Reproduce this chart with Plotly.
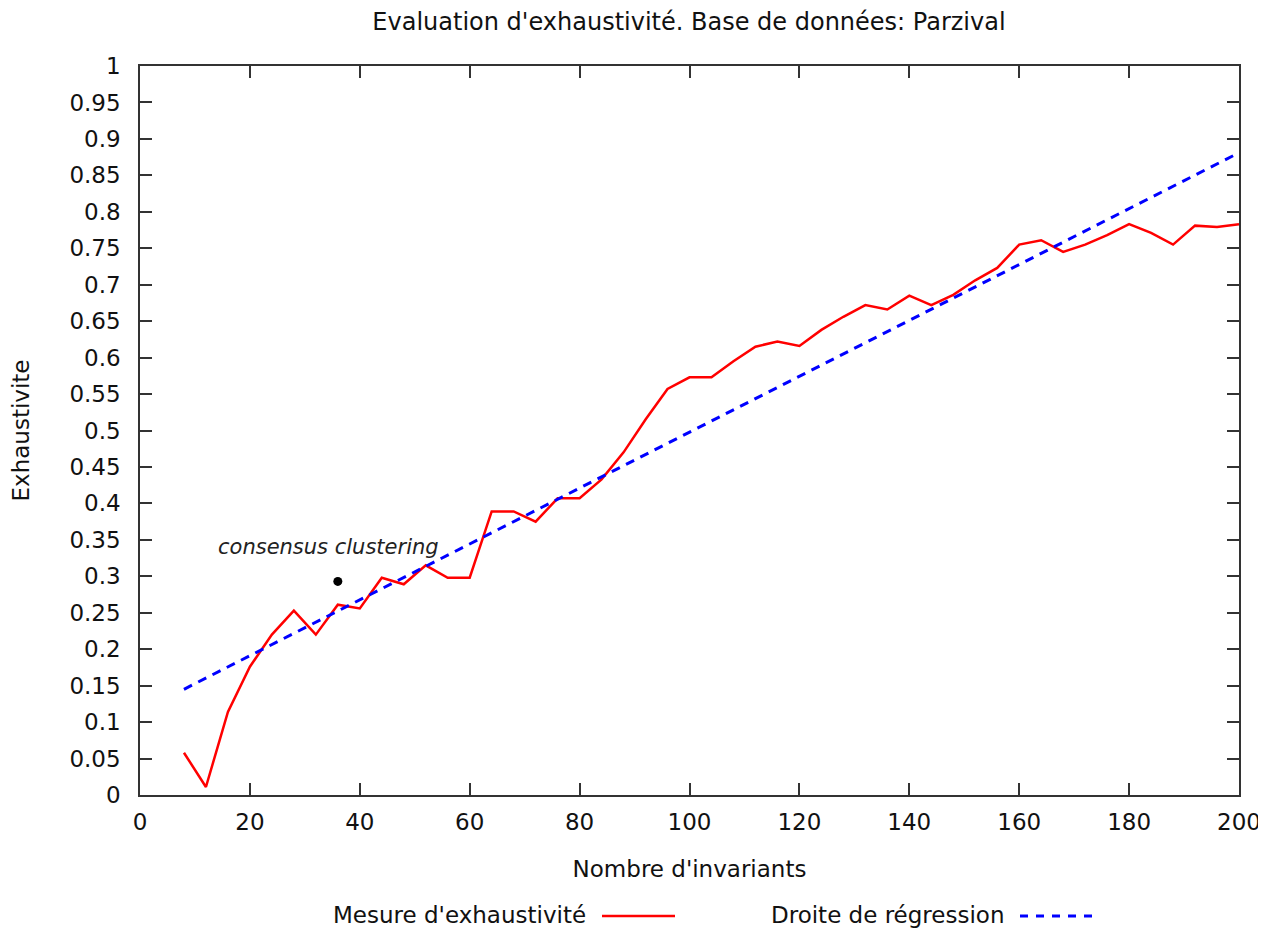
import plotly.graph_objects as go

# Data
invariants = [8, 12, 16, 20, 24, 28, 32, 36, 40, 44, 48, 52, 56, 60, 64, 68, 72, 76, 80, 84,
              88, 92, 96, 100, 104, 108, 112, 116, 120, 124, 128, 132, 136, 140, 144, 148,
              152, 156, 160, 164, 168, 172, 176, 180, 184, 188, 192, 196, 200]
exhaustivite = [0.058, 0.011, 0.114, 0.176, 0.220, 0.253, 0.220, 0.261, 0.256, 0.298, 0.289,
                0.315, 0.298, 0.298, 0.389, 0.389, 0.375, 0.407, 0.407, 0.433, 0.470, 0.515,
                0.557, 0.573, 0.573, 0.595, 0.615, 0.622, 0.616, 0.638, 0.656, 0.672, 0.666,
                0.685, 0.672, 0.686, 0.706, 0.723, 0.755, 0.761, 0.745, 0.755, 0.768, 0.783,
                0.771, 0.755, 0.781, 0.779, 0.783]
reg_x = [8, 200]
reg_y = [0.145, 0.881]
consensus_x = [36]
consensus_y = [0.293]

FONT = "DejaVu Sans"
OFF = 8  # page body margin
W, H = 1266 - OFF, 930 - OFF
# plot area edges in page pixels
L, R, T, B = 140, 1239, 66, 795
Lf, Rf, Tf, Bf = L - OFF, R - OFF, T - OFF, B - OFF

fig = go.Figure()
fig.add_trace(go.Scatter(x=invariants, y=exhaustivite, mode="lines",
                         line=dict(color="#ff0000", width=2.5),
                         name="Mesure d'exhaustivité", showlegend=False))
fig.add_trace(go.Scatter(x=reg_x, y=reg_y, mode="lines",
                         line=dict(color="#0000ff", width=3, dash="9px,7px"),
                         name="Droite de régression", showlegend=False))
fig.add_trace(go.Scatter(x=consensus_x, y=consensus_y, mode="markers",
                         marker=dict(color="black", size=9),
                         name="consensus clustering", showlegend=False))

fig.add_annotation(x=34.3, y=0.34, text="<i>consensus clustering</i>", showarrow=False,
                   xanchor="center", yanchor="middle",
                   font=dict(family=FONT, size=21, color="#222"))


def px(xp):
    return (xp - L) / (R - L)


def py(yp):
    return (B - yp) / (B - T)


# custom legend (text then sample, gnuplot style)
fig.add_annotation(xref="paper", yref="paper", x=px(588), y=py(915), text="Mesure d'exhaustivité",
                   showarrow=False, xanchor="right", yanchor="middle",
                   font=dict(family=FONT, size=23, color="#111"))
fig.add_shape(type="line", xref="paper", yref="paper", x0=px(602), x1=px(675), y0=py(916), y1=py(916),
              line=dict(color="#ff0000", width=2.5))
fig.add_annotation(xref="paper", yref="paper", x=px(1006), y=py(915), text="Droite de régression",
                   showarrow=False, xanchor="right", yanchor="middle",
                   font=dict(family=FONT, size=23, color="#111"))
fig.add_shape(type="line", xref="paper", yref="paper", x0=px(1020), x1=px(1093), y0=py(916), y1=py(916),
              line=dict(color="#0000ff", width=3, dash="8px,8px"))

axis_common = dict(showline=True, linecolor="#333", linewidth=1.5, mirror="allticks",
                   ticks="inside", ticklen=12, tickcolor="#333", tickwidth=1.5,
                   showgrid=False, zeroline=False, automargin=False,
                   tickfont=dict(family=FONT, size=23, color="#111"))

fig.update_layout(
    width=W, height=H,
    margin=dict(l=Lf, r=W - Rf, t=Tf, b=H - Bf),
    plot_bgcolor="white", paper_bgcolor="white",
    title=dict(text="Evaluation d'exhaustivité. Base de données: Parzival",
               x=((373 + 1005) / 2 - OFF) / W, xanchor="center",
               y=1 - (22 - OFF) / H, yanchor="middle",
               font=dict(family=FONT, size=24, color="#111")),
    xaxis=dict(range=[0, 200], tickmode="linear", tick0=0, dtick=20,
               ticklabelstandoff=6,
               title=dict(text="Nombre d'invariants", standoff=27,
                          font=dict(family=FONT, size=23, color="#111")),
               **axis_common),
    yaxis=dict(range=[0, 1], tickmode="linear", tick0=0, dtick=0.05,
               ticklabelstandoff=13,
               title=dict(text="Exhaustivite", standoff=36,
                          font=dict(family=FONT, size=23, color="#111")),
               **axis_common),
)

fig.write_html("out.html")
